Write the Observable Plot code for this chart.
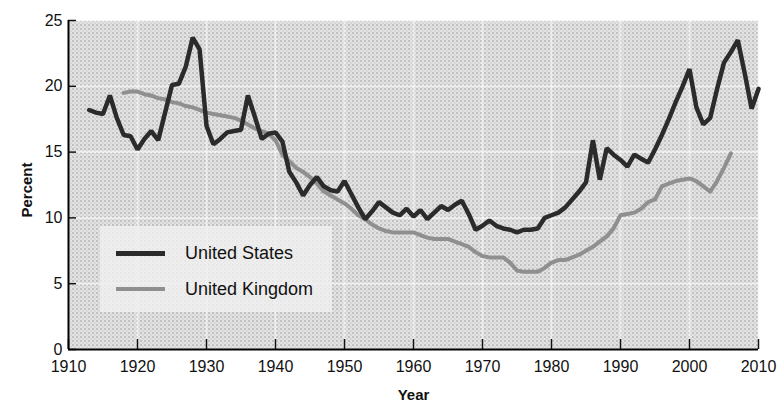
<!DOCTYPE html>
<html>
<head>
<meta charset="utf-8">
<script src="https://cdn.jsdelivr.net/npm/d3@7"></script>
<script src="https://cdn.jsdelivr.net/npm/@observablehq/plot@0.6"></script>
<style>
  html, body { margin: 0; padding: 0; background: #fff; }
  #wrap { position: relative; width: 782px; height: 404px; font-family: "Liberation Sans", Arial, sans-serif; }
  #legend { position: absolute; left: 100px; top: 226px; width: 232px; height: 86px; background: rgba(240,240,240,0.8); }
  .lg-row { position: absolute; left: 16px; height: 20px; display: flex; align-items: center; }
  .lg-line { width: 49px; height: 4px; margin-right: 20px; }
  .lg-text { font-family: "Liberation Sans", Arial, sans-serif; font-size: 18px; color: #111; }
</style>
</head>
<body>
<div id="wrap">
  <div id="chart"></div>
  <div id="legend">
    <div class="lg-row" style="top:17px"><div class="lg-line" style="background:#2b2b2b;height:5px"></div><span class="lg-text">United States</span></div>
    <div class="lg-row" style="top:53px"><div class="lg-line" style="background:#8f8f8f"></div><span class="lg-text">United Kingdom</span></div>
  </div>
</div>
<script>
const xTicks = [1910, 1920, 1930, 1940, 1950, 1960, 1970, 1980, 1990, 2000, 2010];
const yTicks = [0, 5, 10, 15, 20, 25];

const usYears = d3.range(1913, 2011);
const usValues = [
  18.2, 18.0, 17.9, 19.3, 17.6, 16.3, 16.2, 15.2, 16.0, 16.6,   // 1913-1922
  15.9, 18.0, 20.1, 20.2, 21.5, 23.7, 22.8, 17.0, 15.6, 16.0,   // 1923-1932
  16.5, 16.6, 16.7, 19.3, 17.7, 16.0, 16.4, 16.5, 15.8, 13.5,   // 1933-1942
  12.7, 11.7, 12.5, 13.1, 12.4, 12.1, 12.0, 12.8, 11.8, 10.8,   // 1943-1952
  9.9, 10.5, 11.2, 10.8, 10.4, 10.2, 10.7, 10.1, 10.6, 9.9,     // 1953-1962
  10.4, 10.9, 10.6, 11.0, 11.3, 10.3, 9.1, 9.4, 9.8, 9.4,       // 1963-1972
  9.2, 9.1, 8.9, 9.1, 9.1, 9.2, 10.0, 10.2, 10.4, 10.8,         // 1973-1982
  11.4, 12.0, 12.7, 15.9, 12.9, 15.3, 14.8, 14.4, 13.9, 14.8,   // 1983-1992
  14.5, 14.2, 15.2, 16.3, 17.5, 18.8, 20.0, 21.3, 18.4, 17.1,   // 1993-2002
  17.6, 19.8, 21.8, 22.6, 23.5, 21.0, 18.3, 19.8                // 2003-2010
];

const ukYears = d3.range(1918, 2007);
const ukValues = [
  19.5, 19.6, 19.6, 19.4, 19.3, 19.1, 19.0, 18.8, 18.7, 18.5,   // 1918-1927
  18.4, 18.2, 18.0, 17.9, 17.8, 17.7, 17.6, 17.4, 17.1, 16.8,   // 1928-1937
  16.6, 16.4, 15.9, 14.8, 14.3, 13.8, 13.5, 13.1, 12.6, 12.0,   // 1938-1947
  11.7, 11.4, 11.1, 10.7, 10.2, 9.9, 9.5, 9.2, 9.0, 8.9,        // 1948-1957
  8.9, 8.9, 8.9, 8.7, 8.5, 8.4, 8.4, 8.4, 8.2, 8.0,             // 1958-1967
  7.8, 7.4, 7.1, 7.0, 7.0, 7.0, 6.6, 6.0, 5.9, 5.9,             // 1968-1977
  5.9, 6.2, 6.6, 6.8, 6.8, 7.0, 7.2, 7.5, 7.8, 8.2,             // 1978-1987
  8.6, 9.2, 10.2, 10.3, 10.4, 10.7, 11.2, 11.4, 12.4, 12.6,     // 1988-1997
  12.8, 12.9, 13.0, 12.8, 12.4, 12.0, 12.8, 13.8, 14.9          // 1998-2006
];

const us = usYears.map((year, i) => ({year, value: usValues[i]}));
const uk = ukYears.map((year, i) => ({year, value: ukValues[i]}));

const chart = Plot.plot({
  width: 782,
  height: 404,
  marginLeft: 68,
  marginRight: 24,
  marginTop: 20,
  marginBottom: 55,
  style: {fontFamily: "'Liberation Sans', Arial, sans-serif", fontSize: "16px", color: "#111", background: "transparent"},
  x: {domain: [1910, 2010]},
  y: {domain: [0, 25]},
  marks: [
    Plot.frame({fill: "url(#stipple)", stroke: null}),
    Plot.gridX(xTicks, {stroke: "#ffffff", strokeOpacity: 0.5, strokeWidth: 2}),
    Plot.gridY(yTicks, {stroke: "#ffffff", strokeOpacity: 0.5, strokeWidth: 2}),
    Plot.line(uk, {x: "year", y: "value", stroke: "#8f8f8f", strokeWidth: 4}),
    Plot.line(us, {x: "year", y: "value", stroke: "#2b2b2b", strokeWidth: 4.5, strokeLinejoin: "miter"}),
    Plot.axisX(xTicks, {tickSize: -10, tickPadding: 21, tickFormat: d => String(d), strokeWidth: 1.5, label: null, fontSize: 16}),
    Plot.axisY(yTicks, {tickSize: -8, tickPadding: 14, strokeWidth: 1.5, label: null, fontSize: 16}),
    Plot.ruleY([0], {stroke: "#000", strokeWidth: 2}),
    Plot.ruleX([1910], {stroke: "#000", strokeWidth: 2}),
    Plot.text(["Percent"], {frameAnchor: "left", textAnchor: "middle", dx: -41, dy: 5, rotate: -90, fontWeight: "bold", fontSize: 15, fill: "#111"}),
    Plot.text(["Year"], {frameAnchor: "bottom", dy: 50, fontWeight: "bold", fontSize: 15, fill: "#111"})
  ]
});

// stipple pattern for the plot background
const defs = document.createElementNS("http://www.w3.org/2000/svg", "defs");
defs.innerHTML = `
  <pattern id="stipple" width="4" height="4" patternUnits="userSpaceOnUse">
    <rect width="4" height="4" fill="#f0f0f0"></rect>
    <rect x="0" y="0" width="1" height="1" fill="#333"></rect>
    <rect x="2" y="2" width="1" height="1" fill="#888"></rect>
    <rect x="2" y="0" width="1" height="1" fill="#bbb"></rect>
    <rect x="0" y="2" width="1" height="1" fill="#bbb"></rect>
  </pattern>`;
chart.insertBefore(defs, chart.firstChild);

document.getElementById("chart").appendChild(chart);
</script>
</body>
</html>
